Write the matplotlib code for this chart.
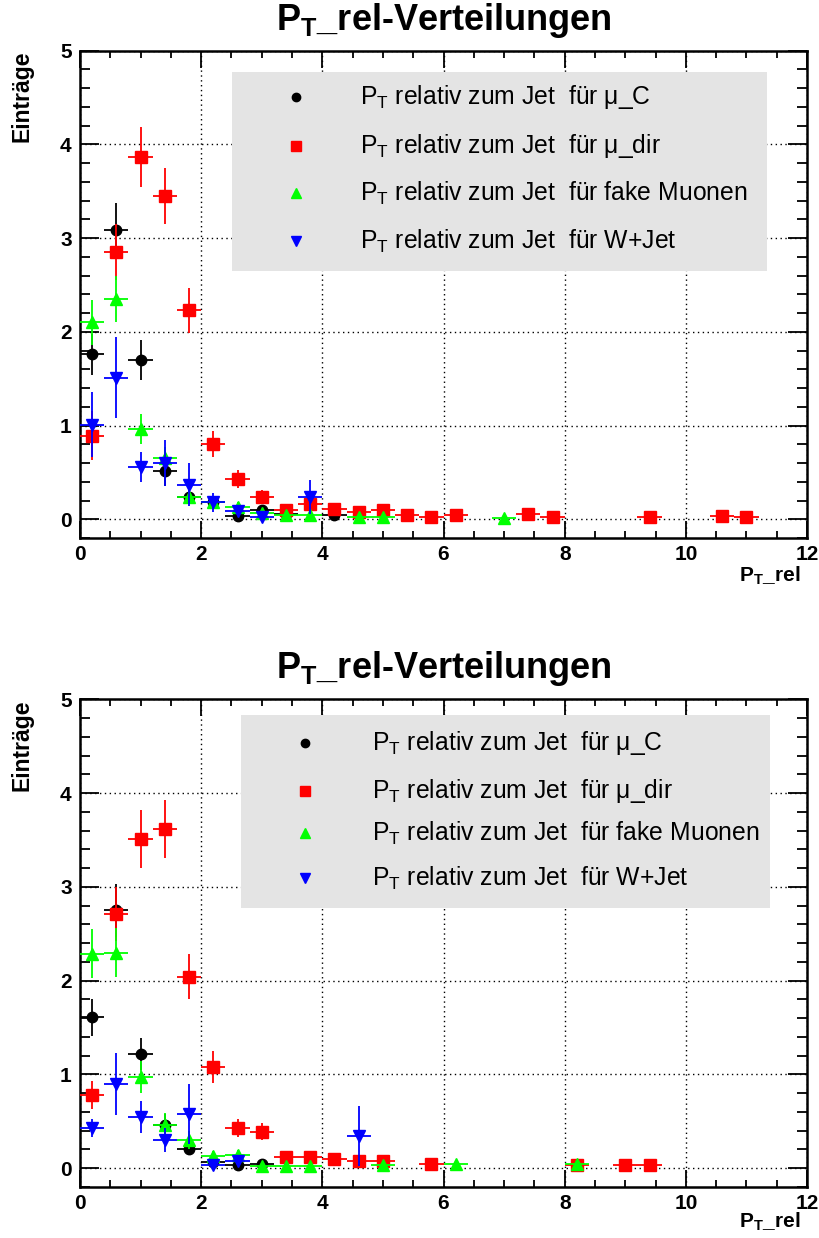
import matplotlib
matplotlib.use('Agg')
import matplotlib.pyplot as plt
from matplotlib.patches import Rectangle
from matplotlib.ticker import MultipleLocator

plt.rcParams['font.family'] = ['Liberation Sans', 'DejaVu Sans']
plt.rcParams['mathtext.fontset'] = 'custom'
plt.rcParams['mathtext.rm'] = 'Liberation Sans'
plt.rcParams['mathtext.bf'] = 'Liberation Sans:bold'

# ---- upper histogram ----
top_c_x = [0.2, 0.6, 1.0, 1.4, 1.8, 2.2, 2.6, 3.0, 3.4, 4.2]
top_c_y = [1.76, 3.09, 1.70, 0.52, 0.24, 0.18, 0.03, 0.10, 0.06, 0.05]
top_c_e = [0.22, 0.28, 0.21, 0.16, 0.08, 0.07, 0.03, 0.05, 0.04, 0.04]

top_dir_x = [0.2, 0.6, 1.0, 1.4, 1.8, 2.2, 2.6, 3.0, 3.4, 3.8, 4.2, 4.6, 5.0, 5.4, 5.8, 6.2, 7.4, 7.8, 9.4, 10.6, 11.0]
top_dir_y = [0.89, 2.85, 3.86, 3.45, 2.23, 0.80, 0.43, 0.24, 0.10, 0.16, 0.11, 0.08, 0.10, 0.05, 0.02, 0.05, 0.06, 0.02, 0.02, 0.03, 0.02]
top_dir_e = [0.26, 0.30, 0.32, 0.30, 0.24, 0.14, 0.10, 0.07, 0.05, 0.06, 0.05, 0.04, 0.05, 0.03, 0.02, 0.03, 0.03, 0.02, 0.02, 0.02, 0.02]

top_fake_x = [0.2, 0.6, 1.0, 1.4, 1.8, 2.2, 2.6, 3.0, 3.4, 3.8, 4.6, 5.0, 7.0]
top_fake_y = [2.10, 2.35, 0.96, 0.65, 0.24, 0.18, 0.13, 0.07, 0.05, 0.05, 0.02, 0.02, 0.01]
top_fake_e = [0.24, 0.25, 0.16, 0.12, 0.07, 0.06, 0.05, 0.04, 0.03, 0.03, 0.02, 0.02, 0.01]

top_w_x = [0.2, 0.6, 1.0, 1.4, 1.8, 2.2, 2.6, 3.0, 3.8]
top_w_y = [1.01, 1.51, 0.56, 0.60, 0.37, 0.18, 0.09, 0.02, 0.24]
top_w_e = [0.35, 0.43, 0.16, 0.25, 0.23, 0.10, 0.06, 0.03, 0.18]

# ---- lower histogram ----
bot_c_x = [0.2, 0.6, 1.0, 1.4, 1.8, 2.2, 2.6, 3.0]
bot_c_y = [1.61, 2.75, 1.22, 0.46, 0.21, 0.07, 0.03, 0.05]
bot_c_e = [0.20, 0.28, 0.17, 0.12, 0.06, 0.04, 0.03, 0.03]

bot_dir_x = [0.2, 0.6, 1.0, 1.4, 1.8, 2.2, 2.6, 3.0, 3.4, 3.8, 4.2, 4.6, 5.0, 5.8, 8.2, 9.0, 9.4]
bot_dir_y = [0.78, 2.71, 3.51, 3.62, 2.04, 1.08, 0.43, 0.39, 0.12, 0.12, 0.10, 0.08, 0.08, 0.05, 0.03, 0.03, 0.03]
bot_dir_e = [0.15, 0.29, 0.31, 0.31, 0.24, 0.17, 0.10, 0.09, 0.05, 0.05, 0.04, 0.04, 0.04, 0.03, 0.02, 0.02, 0.02]

bot_fake_x = [0.2, 0.6, 1.0, 1.4, 1.8, 2.2, 2.6, 3.0, 3.4, 3.8, 5.0, 6.2, 8.2]
bot_fake_y = [2.29, 2.30, 0.97, 0.46, 0.30, 0.13, 0.14, 0.02, 0.02, 0.02, 0.03, 0.04, 0.05]
bot_fake_e = [0.26, 0.26, 0.17, 0.13, 0.10, 0.05, 0.05, 0.02, 0.02, 0.02, 0.02, 0.02, 0.03]

bot_w_x = [0.2, 0.6, 1.0, 1.4, 1.8, 2.2, 2.6, 4.6]
bot_w_y = [0.43, 0.90, 0.55, 0.30, 0.58, 0.03, 0.08, 0.34]
bot_w_e = [0.10, 0.33, 0.17, 0.13, 0.32, 0.03, 0.05, 0.32]

bin_half = 0.2
labels = [r'P$_\mathrm{T}$ relativ zum Jet  für μ_C',
          r'P$_\mathrm{T}$ relativ zum Jet  für μ_dir',
          r'P$_\mathrm{T}$ relativ zum Jet  für fake Muonen',
          r'P$_\mathrm{T}$ relativ zum Jet  für W+Jet']
colors = ['black', '#ff0000', '#00ff00', '#0000ff']
markers = ['o', 's', '^', 'v']
msizes = [7.5, 8, 8.5, 8.5]

fig = plt.figure(figsize=(8.19, 12.38), dpi=100)


def draw_panel(rect, series, title_y, leg_box, leg_rows, leg_mx, leg_tx, xlab_y):
    ax = fig.add_axes(rect)
    ax.set_xlim(0, 12)
    ax.set_ylim(-0.2, 5)
    ax.xaxis.set_major_locator(MultipleLocator(2))
    ax.xaxis.set_minor_locator(MultipleLocator(0.5))
    ax.yaxis.set_major_locator(MultipleLocator(1))
    ax.yaxis.set_minor_locator(MultipleLocator(0.2))
    ax.tick_params(which='both', direction='in', top=True, right=True, width=1.3)
    ax.tick_params(axis='x', which='major', length=12, labelsize=15, pad=5)
    ax.tick_params(axis='x', which='minor', length=5)
    ax.tick_params(axis='y', which='major', length=14, labelsize=15, pad=6)
    ax.tick_params(axis='y', which='minor', length=7)
    for lab in ax.get_xticklabels() + ax.get_yticklabels():
        lab.set_fontweight('bold')
    for sp in ax.spines.values():
        sp.set_linewidth(1.8)
    ax.grid(True, which='major', color='black', linestyle=(0, (1, 2.5)), linewidth=1.0)
    ax.set_axisbelow(False)

    # draw order: W+Jet, mu_dir, mu_C, fake
    for i in [3, 1, 0, 2]:
        x, y, e = series[i]
        ax.errorbar(x, y, yerr=e, xerr=bin_half, fmt=markers[i], color=colors[i],
                    ms=msizes[i], mec=colors[i], elinewidth=1.3, capsize=0, zorder=3 + i)

    # legend box
    x0, y0, x1, y1 = leg_box
    ax.add_patch(Rectangle((x0, y0), x1 - x0, y1 - y0, transform=ax.transAxes,
                           facecolor='#e4e4e4', edgecolor='none', zorder=10))
    for i, yy in enumerate(leg_rows):
        ax.plot([leg_mx], [yy], marker=markers[i], color=colors[i], ms=msizes[i] - 1.5,
                transform=ax.transAxes, zorder=11, clip_on=False)
        ax.text(leg_tx, yy, labels[i], transform=ax.transAxes, fontsize=17.8,
                va='center', ha='left', zorder=11)

    fig.text((rect[0] + rect[0] + rect[2]) / 2, title_y, r'P$_\mathbf{T}$_rel-Verteilungen',
             fontsize=26, fontweight='bold', ha='center', va='center')
    fig.text(0.027, rect[1] + rect[3], 'Einträge', rotation=90, fontsize=16.5,
             fontweight='bold', ha='center', va='top')
    fig.text(0.977, xlab_y, r'P$_\mathbf{T}$_rel', fontsize=15, fontweight='bold',
             ha='right', va='center')
    return ax


top_series = [(top_c_x, top_c_y, top_c_e), (top_dir_x, top_dir_y, top_dir_e),
              (top_fake_x, top_fake_y, top_fake_e), (top_w_x, top_w_y, top_w_e)]
bot_series = [(bot_c_x, bot_c_y, bot_c_e), (bot_dir_x, bot_dir_y, bot_dir_e),
              (bot_fake_x, bot_fake_y, bot_fake_e), (bot_w_x, bot_w_y, bot_w_e)]

draw_panel([0.0977, 0.5654, 0.8877, 0.3938], top_series, 1 - 20 / 1238,
           (0.209, 0.548, 0.945, 0.956), [0.9046, 0.804, 0.7077, 0.609],
           0.297, 0.385, 1 - 576 / 1238)
draw_panel([0.0977, 0.0412, 0.8877, 0.3938], bot_series, 1 - 668 / 1238,
           (0.2215, 0.5725, 0.949, 0.9685), [0.9108, 0.8123, 0.726, 0.634],
           0.3095, 0.4017, 1 - 1222 / 1238)

fig.savefig('out.png', dpi=100)
